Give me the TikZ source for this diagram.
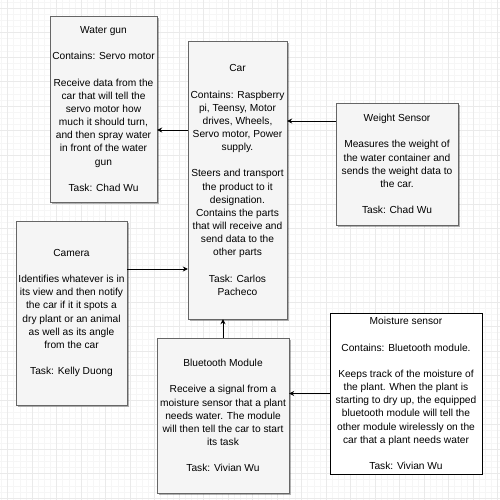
\documentclass[tikz,border=0pt]{standalone}
\usepackage{fontspec}
\setmainfont{Liberation Sans}
\usetikzlibrary{arrows.meta,shadows}
\definecolor{boxfill}{HTML}{F5F5F5}
\definecolor{boxline}{HTML}{666666}
\definecolor{minorgrid}{HTML}{F6F6F6}
\definecolor{majorgrid}{HTML}{EAEAEA}
\tikzset{
	part/.style={draw=boxline, fill=boxfill, inner sep=0pt, align=center,
		font=\fontsize{10.2}{13.15}\selectfont,
		drop shadow={shadow xshift=1.5pt, shadow yshift=-2pt, fill=black, opacity=.3}},
	plainpart/.style={draw=black, fill=white, inner sep=0pt, align=center,
		font=\fontsize{10.2}{13.15}\selectfont},
	link/.style={-{Stealth[length=5pt,width=5pt]}, draw=black, line width=0.8pt}
}
\begin{document}
\begin{tikzpicture}[x=1pt,y=-1pt]
		\useasboundingbox (0,0) rectangle (500,500);
		\fill[white] (0,0) rectangle (500,500);
		\begin{scope}
			\clip (0,0) rectangle (500,500);
			\draw[minorgrid, line width=0.4pt, step=6.125pt, shift={(7.5,8)}] (-20,-20) grid (500,500);
			\draw[majorgrid, line width=0.6pt, step=24.5pt, shift={(7.5,8)}] (-20,-20) grid (500,500);
		\end{scope}

		\node[part, minimum width=107pt, minimum height=186pt](gun) at (103.5,109) {Water gun\\[13.15pt]
			Contains: Servo motor\\[13.15pt]
			Receive data from the\\car that will tell the\\servo motor how\\much it should turn,\\and then spray water\\in front of the water\\gun\\[13.15pt]
			Task: Chad Wu};
		\node[part, minimum width=99pt, minimum height=278pt](car) at (237.5,180) {Car\\[13.15pt]
			Contains: Raspberry\\pi, Teensy, Motor\\drives, Wheels,\\Servo motor, Power\\supply.\\[13.15pt]
			Steers and transport\\the product to it\\designation.\\Contains the parts\\that will receive and\\send data to the\\other parts\\[13.15pt]
			Task: Carlos\\Pacheco};
		\node[part, minimum width=122pt, minimum height=122pt](weight) at (397,164) {Weight Sensor\\[13.15pt]
			Measures the weight of\\the water container and\\sends the weight data to\\the car.\\[13.15pt]
			Task: Chad Wu};
		\node[part, minimum width=111pt, minimum height=184pt](camera) at (71.5,313) {Camera\\[13.15pt]
			Identifies whatever is in\\its view and then notify\\the car if it it spots a\\dry plant or an animal\\as well as its angle\\from the car\\[13.15pt]
			Task: Kelly Duong};
		\node[part, minimum width=132pt, minimum height=155pt](bt) at (223,415.5) {Bluetooth Module\\[13.15pt]
			Receive a signal from a\\moisture sensor that a plant\\needs water. The module\\will then tell the car to start\\its task\\[13.15pt]
			Task: Vivian Wu};
		\node[plainpart, minimum width=152pt, minimum height=161pt](moist) at (406,393.5) {Moisture sensor\\[13.15pt]
			Contains: Bluetooth module.\\[13.15pt]
			Keeps track of the moisture of\\the plant. When the plant is\\starting to dry up, the equipped\\bluetooth module will tell the\\other module wirelessly on the\\car that a plant needs water\\[13.15pt]
			Task: Vivian Wu};

		\draw [link]([yshift=50pt]car.west) -- ([yshift=-21pt]gun.east);
		\draw [link]([yshift=43pt]weight.west) -- ([yshift=59pt]car.east);
		\draw [link]([yshift=44pt]camera.east) -- ([yshift=-89pt]car.west);
		\draw [link](bt.north) -- (bt.north |- car.south);
		\draw [link](moist.west) -- (moist.west -| bt.east);
	\end{tikzpicture}
\end{document}
